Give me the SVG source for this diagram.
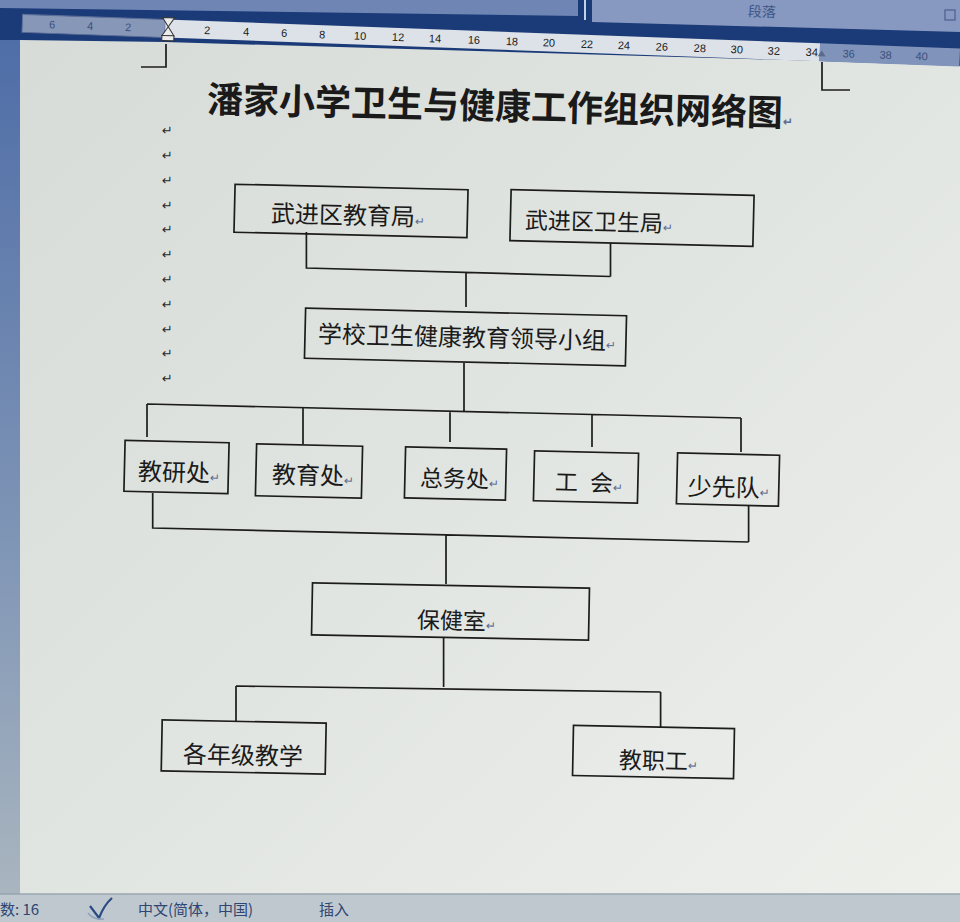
<svg xmlns="http://www.w3.org/2000/svg" width="960" height="922" viewBox="0 0 960 922">
<defs>
<linearGradient id="pg" x1="0" y1="0" x2="1" y2="1">
<stop offset="0" stop-color="#d6dbd8"/>
<stop offset="0.5" stop-color="#e1e5e1"/>
<stop offset="1" stop-color="#eef0ec"/>
</linearGradient>
<linearGradient id="ls" x1="0" y1="0" x2="0" y2="1">
<stop offset="0" stop-color="#4b6aa6"/>
<stop offset="0.6" stop-color="#7f95b6"/>
<stop offset="1" stop-color="#a9b5bf"/>
</linearGradient>
</defs>
<style>
.box{fill:none;stroke:#1c1c1c;stroke-width:1.7}
.ln{stroke:#1c1c1c;stroke-width:1.7;fill:none}
.lb{font-family:"Noto Sans CJK SC","Noto Sans",sans-serif;fill:#1a1a1a}
.pm{font-family:"DejaVu Sans",sans-serif;font-size:12px;fill:#5c6c90}
.lm{font-family:"DejaVu Sans",sans-serif;font-size:13px;fill:#2a2a2a}
.rn{font-family:"Liberation Sans",sans-serif;font-size:11px;text-anchor:middle;fill:#1a1a1a}
.rg{font-family:"Liberation Sans",sans-serif;font-size:11px;text-anchor:middle;fill:#3b4f7c}
.sb{font-family:"Noto Sans CJK SC","Liberation Sans",sans-serif;font-size:15px;fill:#2e4672}
</style>
<rect x="0" y="0" width="960" height="922" fill="url(#pg)"/>
<rect x="0" y="0" width="20" height="895" fill="url(#ls)"/>
<polygon points="0,0 960,0 960,66 820,61 165,42 20,40 0,40" fill="#1b3a78"/>
<polygon points="0,0 578,0 578,16 0,8" fill="#6f86b5"/>
<polygon points="592,0 960,0 960,32 592,22" fill="#8799c0"/>
<line x1="585" y1="0" x2="585" y2="20" stroke="#c6d0e4" stroke-width="2"/>
<text x="748" y="17" font-family="Noto Sans CJK SC,sans-serif" font-size="14" fill="#3e5688" transform="rotate(2 766 12)">段落</text>
<rect x="945" y="10" width="10" height="10" fill="none" stroke="#4a5f8e" stroke-width="1.2"/>
<g id="ruler" transform="rotate(2.08 480 40)">
<rect x="22" y="31" width="143" height="18" fill="#8797b8" stroke="#5b6e98" stroke-width="1"/>
<rect x="165" y="31" width="655" height="18" fill="#dde2e9"/>
<rect x="820" y="31" width="140" height="18" fill="#8094bb"/>
<text class="rg" x="52" y="44">6</text>
<text class="rg" x="90" y="44">4</text>
<text class="rg" x="128" y="44">2</text>
<text class="rn" x="207" y="44">2</text>
<text class="rn" x="246" y="44">4</text>
<text class="rn" x="284" y="44">6</text>
<text class="rn" x="322" y="44">8</text>
<text class="rn" x="360" y="44">10</text>
<text class="rn" x="398" y="44">12</text>
<text class="rn" x="435" y="44">14</text>
<text class="rn" x="474" y="44">16</text>
<text class="rn" x="512" y="44">18</text>
<text class="rn" x="549" y="44">20</text>
<text class="rn" x="587" y="44">22</text>
<text class="rn" x="624" y="44">24</text>
<text class="rn" x="662" y="44">26</text>
<text class="rn" x="700" y="44">28</text>
<text class="rn" x="737" y="44">30</text>
<text class="rn" x="774" y="44">32</text>
<text class="rn" x="812" y="44">34</text>
<text class="rg" x="849" y="44">36</text>
<text class="rg" x="886" y="44">38</text>
<text class="rg" x="922" y="44">40</text>
<polygon points="162,29 174,29 168,38 162,47 174,47 168,38" fill="#ececec" stroke="#333" stroke-width="1"/>
<rect x="162" y="47" width="12" height="5" fill="#ececec" stroke="#333" stroke-width="1"/>
<polygon points="818,44 826,44 822,38" fill="#5a6a8a"/>
</g>
<path class="ln" d="M141 67 H166 V44" stroke-width="1.3"/>
<path class="ln" d="M822 62 V90 H850" stroke-width="1.3"/>
<g id="title">
<text class="lb" x="207" y="119" font-size="36" font-weight="bold" transform="rotate(1.35 495 106)">潘家小学卫生与健康工作组织网络图<tspan class="pm" font-size="14">↵</tspan></text>
</g>
<g id="marks">
<text class="lm" x="162" y="135">↵</text>
<text class="lm" x="162" y="160">↵</text>
<text class="lm" x="162" y="185">↵</text>
<text class="lm" x="162" y="210">↵</text>
<text class="lm" x="162" y="234">↵</text>
<text class="lm" x="162" y="259">↵</text>
<text class="lm" x="162" y="284">↵</text>
<text class="lm" x="162" y="309">↵</text>
<text class="lm" x="162" y="334">↵</text>
<text class="lm" x="162" y="358">↵</text>
<text class="lm" x="162" y="383">↵</text>
</g>
<g id="connectors">
<path class="ln" d="M306.4 232 V268 L610.5 276.5 M610.5 243 V276.5 M466 272.5 V307"/>
<path class="ln" d="M464 363 V411.5 M147 404 L741 418 M147 404 V437 M303 407.7 V444 M450 411.2 V442 M592 414.5 V447 M741 418 V452"/>
<path class="ln" d="M152.7 493 V528 L748.6 542 M748.6 505 V542 M446 535 V584"/>
<path class="ln" d="M443.6 638 V687 M236 686 L660.6 692 M236 686 V721 M660.6 692 V727"/>
</g>
<g id="n-edu" transform="rotate(1.35 351 211)">
<rect class="box" x="234.5" y="187" width="233" height="48"/>
<text class="lb" x="271" y="224" font-size="24">武进区教育局<tspan class="pm">↵</tspan></text>
</g>
<g id="n-health" transform="rotate(1.35 632 218)">
<rect class="box" x="510.5" y="192.5" width="243" height="51"/>
<text class="lb" x="525" y="231" font-size="23">武进区卫生局<tspan class="pm">↵</tspan></text>
</g>
<g id="n-lead" transform="rotate(1.35 465.5 337)">
<rect class="box" x="305" y="312" width="321" height="50"/>
<text class="lb" x="318" y="346" font-size="24">学校卫生健康教育领导小组<tspan class="pm">↵</tspan></text>
</g>
<g id="n-jiaoyan" transform="rotate(1.35 176.5 467)">
<rect class="box" x="124.5" y="441.5" width="104" height="51"/>
<text class="lb" x="138" y="481" font-size="24">教研处<tspan class="pm">↵</tspan></text>
</g>
<g id="n-jiaoyu" transform="rotate(1.35 309 471)">
<rect class="box" x="256" y="445" width="106" height="52"/>
<text class="lb" x="272" y="484" font-size="24">教育处<tspan class="pm">↵</tspan></text>
</g>
<g id="n-zongwu" transform="rotate(1.35 455.5 473.5)">
<rect class="box" x="405" y="448" width="101" height="51"/>
<text class="lb" x="420" y="487" font-size="23">总务处<tspan class="pm">↵</tspan></text>
</g>
<g id="n-gonghui" transform="rotate(1.35 586 477)">
<rect class="box" x="534" y="452" width="104" height="50"/>
<text class="lb" x="555" y="491" font-size="23">工 <tspan x="590">会</tspan><tspan class="pm">↵</tspan></text>
</g>
<g id="n-xianfeng" transform="rotate(1.35 728 479.5)">
<rect class="box" x="677" y="454" width="102" height="51"/>
<text class="lb" x="688" y="496" font-size="24">少先队<tspan class="pm">↵</tspan></text>
</g>
<g id="n-baojian" transform="rotate(1.1 450.5 611.5)">
<rect class="box" x="312" y="585.5" width="277" height="52"/>
<text class="lb" x="417" y="629" font-size="23">保健室<tspan class="pm">↵</tspan></text>
</g>
<g id="n-grades" transform="rotate(1.1 243.7 747)">
<rect class="box" x="161.7" y="721.5" width="164" height="51"/>
<text class="lb" x="183" y="764" font-size="24">各年级教学</text>
</g>
<g id="n-staff" transform="rotate(1.1 653 752)">
<rect class="box" x="573" y="727" width="161" height="50"/>
<text class="lb" x="619" y="769" font-size="23">教职工<tspan class="pm">↵</tspan></text>
</g>
<g id="statusbar">
<rect x="0" y="894" width="960" height="28" fill="#bfc8cf"/>
<line x1="0" y1="894" x2="960" y2="894" stroke="#98a6b0" stroke-width="1.5"/>
<text class="sb" x="0" y="915">数: 16</text>
<path d="M90 906 Q96 914 99 918 Q104 905 112 898" fill="none" stroke="#2b4b85" stroke-width="2.2"/>
<path d="M88 913 Q93 920 104 919" fill="none" stroke="#8fa2bd" stroke-width="1.5"/>
<text class="sb" x="138" y="915">中文(简体，中国)</text>
<text class="sb" x="319" y="915">插入</text>
</g>
</svg>
